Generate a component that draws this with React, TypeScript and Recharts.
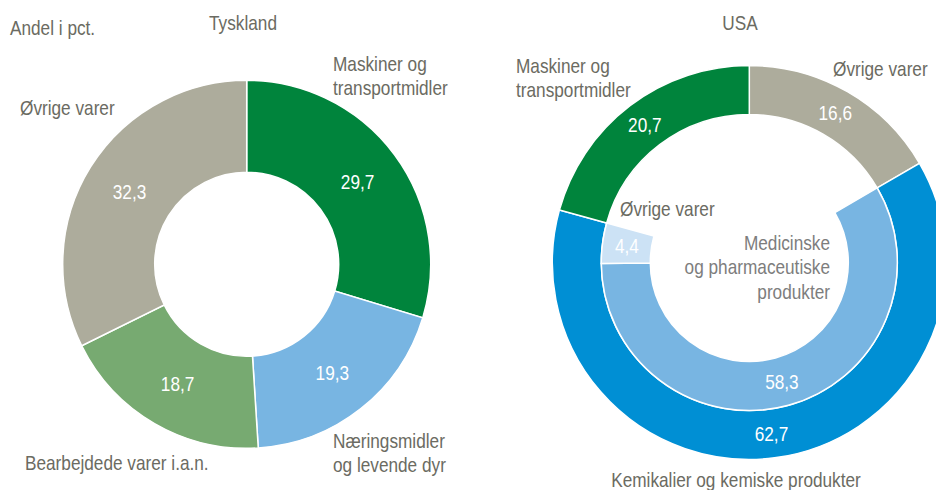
import React from 'react';
import { PieChart, Pie, Cell } from 'recharts';

// ---- Data ----
const deTitle = 'Tyskland';
const deCategories = ['Maskiner og transportmidler', 'Næringsmidler og levende dyr', 'Bearbejdede varer i.a.n.', 'Øvrige varer'];
const deValues = [29.7, 19.3, 18.7, 32.3];

const usTitle = 'USA';
const usCategories = ['Øvrige varer', 'Kemikalier og kemiske produkter', 'Maskiner og transportmidler'];
const usValues = [16.6, 62.7, 20.7];

const usChemCategories = ['Medicinske og pharmaceutiske produkter', 'Øvrige varer'];
const usChemValues = [58.3, 4.4];

const unitLabel = 'Andel i pct.';

// ---- Styles ----
const FONT = "'Liberation Sans', Arial, sans-serif";
const FS = 21;
const SX = 0.82; // emulate a narrow face
const TEXT_COLOR = '#6B6B62';
const deColors = ['#00843C', '#78B5E2', '#77AA71', '#ADAC9C'];
const usColors = ['#ADAC9C', '#008FD4', '#00843C'];
const usChemColors = ['#78B5E2', '#CCE2F5'];

const deData = deCategories.map((name, i) => ({ name, value: deValues[i] }));
const usData = usCategories.map((name, i) => ({ name, value: usValues[i] }));
const usChemData = usChemCategories.map((name, i) => ({ name, value: usChemValues[i] }));

const usTotal = usValues.reduce((a, b) => a + b, 0);
const chemStart = 90 - (360 * usValues[0]) / usTotal;
const chemEnd = 90 - (360 * (usValues[0] + usValues[1])) / usTotal;

const RADIAN = Math.PI / 180;
const fmt = (v: number) => v.toFixed(1).replace('.', ',');

const renderValueLabel = (props: any) => {
  const { cx, cy, midAngle, innerRadius, outerRadius, value } = props;
  const r = (innerRadius + outerRadius) / 2;
  const x = cx + r * Math.cos(-midAngle * RADIAN);
  const y = cy + r * Math.sin(-midAngle * RADIAN);
  return (
    <g transform={`translate(${x},${y}) scale(${SX},1)`}>
      <text x={0} y={0} fill="#ffffff" textAnchor="middle" dominantBaseline="central" fontFamily={FONT} fontSize={FS}>
        {fmt(value)}
      </text>
    </g>
  );
};

type Lbl = { lines: string[]; x: number; y: number; anchor: 'start' | 'middle' | 'end'; color?: string };

const labels: Lbl[] = [
  { lines: [unitLabel], x: 10, y: 35, anchor: 'start' },
  { lines: [deTitle], x: 243, y: 30, anchor: 'middle' },
  { lines: ['Maskiner og', 'transportmidler'], x: 333, y: 71, anchor: 'start' },
  { lines: ['Øvrige varer'], x: 20, y: 115, anchor: 'start' },
  { lines: ['Næringsmidler', 'og levende dyr'], x: 333, y: 448, anchor: 'start' },
  { lines: ['Bearbejdede varer i.a.n.'], x: 25, y: 470, anchor: 'start' },
  { lines: [usTitle], x: 740, y: 30, anchor: 'middle' },
  { lines: ['Maskiner og', 'transportmidler'], x: 516, y: 73, anchor: 'start' },
  { lines: ['Øvrige varer'], x: 833, y: 76, anchor: 'start' },
  { lines: ['Øvrige varer'], x: 620, y: 216, anchor: 'start' },
  { lines: ['Medicinske', 'og pharmaceutiske', 'produkter'], x: 830, y: 250, anchor: 'end', color: '#7D7D7D' },
  { lines: ['Kemikalier og kemiske produkter'], x: 736, y: 487, anchor: 'middle' },
];

export default function App() {
  return (
    <div style={{ position: 'absolute', left: 0, top: 0, width: 936, height: 490, background: '#fff', overflow: 'hidden' }}>
      <PieChart width={936} height={490} margin={{ top: 0, right: 0, bottom: 0, left: 0 }}>
        <Pie
          data={deData}
          dataKey="value"
          nameKey="name"
          cx={246.7}
          cy={264.3}
          innerRadius={92}
          outerRadius={184}
          startAngle={90}
          endAngle={-270}
          stroke="#ffffff"
          strokeWidth={1.5}
          label={renderValueLabel}
          labelLine={false}
          isAnimationActive={false}
        >
          {deData.map((d, i) => (
            <Cell key={d.name} fill={deColors[i]} />
          ))}
        </Pie>
        <Pie
          data={usData}
          dataKey="value"
          nameKey="name"
          cx={749.3}
          cy={262.5}
          innerRadius={148}
          outerRadius={197}
          startAngle={90}
          endAngle={-270}
          stroke="#ffffff"
          strokeWidth={1.5}
          label={renderValueLabel}
          labelLine={false}
          isAnimationActive={false}
        >
          {usData.map((d, i) => (
            <Cell key={d.name} fill={usColors[i]} />
          ))}
        </Pie>
        <Pie
          data={usChemData}
          dataKey="value"
          nameKey="name"
          cx={749.3}
          cy={262.5}
          innerRadius={99}
          outerRadius={148}
          startAngle={chemStart}
          endAngle={chemEnd}
          stroke="#ffffff"
          strokeWidth={1.5}
          label={renderValueLabel}
          labelLine={false}
          isAnimationActive={false}
        >
          {usChemData.map((d, i) => (
            <Cell key={d.name} fill={usChemColors[i]} />
          ))}
        </Pie>
      </PieChart>
      <svg width={936} height={490} style={{ position: 'absolute', left: 0, top: 0, pointerEvents: 'none' }}>
        {labels.map((l, i) => (
          <g key={i} transform={`translate(${l.x},${l.y}) scale(${SX},1)`}>
            <text x={0} y={0} textAnchor={l.anchor} fill={l.color || TEXT_COLOR} fontFamily={FONT} fontSize={FS}>
              {l.lines.map((ln, j) => (
                <tspan key={j} x={0} dy={j === 0 ? 0 : 24.5}>
                  {ln}
                </tspan>
              ))}
            </text>
          </g>
        ))}
      </svg>
    </div>
  );
}
